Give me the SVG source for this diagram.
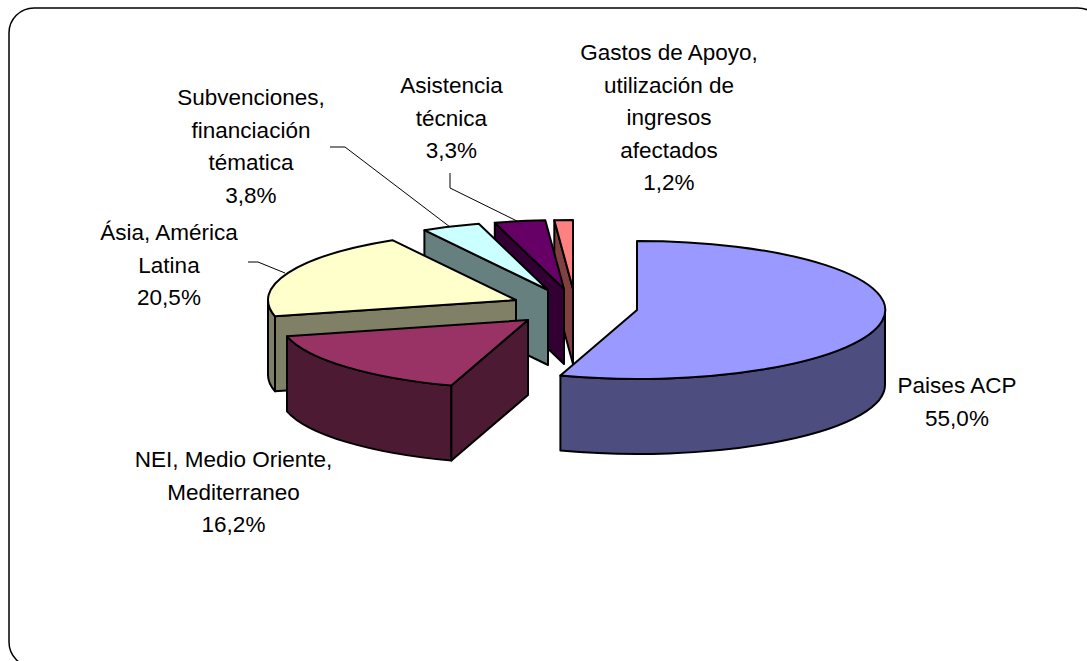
<svg xmlns="http://www.w3.org/2000/svg" width="1087" height="661" viewBox="0 0 1087 661">
<style>
.lbl{font-family:"Liberation Sans",Arial,sans-serif;font-size:22.5px;fill:#000;text-anchor:middle}
.f{stroke:#000;stroke-width:2;stroke-linejoin:round}
.ld{fill:none;stroke:#000;stroke-width:1}
</style>
<rect x="9" y="8" width="1094" height="659" rx="25" ry="25" fill="#fff" stroke="#000" stroke-width="1.5"/>
<g id="gastos">
<path class="f" fill="#804040" d="M573,289 L554.3,220.2 L554.3,295.2 L573,364 Z"/>
<path class="f" fill="#FF8080" d="M573,289 L554.3,220.2 A248,69 0 0 1 573,220 Z"/>
<text class="lbl" x="669" y="60">Gastos de Apoyo,</text>
<text class="lbl" x="669" y="92.5">utilización de</text>
<text class="lbl" x="669" y="125">ingresos</text>
<text class="lbl" x="669" y="157.5">afectados</text>
<text class="lbl" x="669" y="190">1,2%</text>
</g>
<g id="asistencia">
<path class="f" fill="#330033" d="M564,289 L494.8,222.7 L494.8,297.7 L564,364 Z"/>
<path class="f" fill="#660066" d="M564,289 L494.8,222.7 A248,69 0 0 1 545.3,220.2 Z"/>
<text class="lbl" x="451.5" y="93">Asistencia</text>
<text class="lbl" x="451.5" y="125.5">técnica</text>
<text class="lbl" x="451.5" y="158">3,3%</text>
</g>
<g id="subvenciones">
<path class="f" fill="#668080" d="M548,290 L424.4,230.2 L424.4,305.2 L548,365 Z"/>
<path class="f" fill="#CCFFFF" d="M548,290 L424.4,230.2 A248,69 0 0 1 478.8,223.7 Z"/>
<text class="lbl" x="251" y="105">Subvenciones,</text>
<text class="lbl" x="251" y="137.5">financiación</text>
<text class="lbl" x="251" y="170">tématica</text>
<text class="lbl" x="251" y="202.5">3,8%</text>
</g>
<g id="asia">
<path class="f" fill="#808066" d="M275,316.3 A248,69 0 0 1 268,300 L268,375 A248,69 0 0 0 275,391.3 Z"/>
<path class="f" fill="#808066" d="M516,300 L275,316.3 L275,391.3 L516,375 Z"/>
<path class="f" fill="#FFFFCC" d="M516,300 L275,316.3 A248,69 0 0 1 392.4,240.2 Z"/>
<text class="lbl" x="169" y="240">Ásia, América</text>
<text class="lbl" x="169" y="272.5">Latina</text>
<text class="lbl" x="169" y="305">20,5%</text>
</g>
<g id="nei">
<path class="f" fill="#4D1A33" d="M451.4,385.6 A248,69 0 0 1 287,336.3 L287,411.3 A248,69 0 0 0 451.4,460.6 Z"/>
<path class="f" fill="#4D1A33" d="M528,320 L451.4,385.6 L451.4,460.6 L528,395 Z"/>
<path class="f" fill="#993366" d="M528,320 L451.4,385.6 A248,69 0 0 1 287,336.3 Z"/>
<text class="lbl" x="233.5" y="467">NEI, Medio Oriente,</text>
<text class="lbl" x="233.5" y="499.5">Mediterraneo</text>
<text class="lbl" x="233.5" y="532">16,2%</text>
</g>
<g id="paises-acp">
<path class="f" fill="#4D4D80" d="M885,310 A248,69 0 0 1 560.4,375.6 L560.4,450.6 A248,69 0 0 0 885,385 Z"/>
<path class="f" fill="#9999FF" d="M637,310 L637,241 A248,69 0 1 1 560.4,375.6 Z"/>
<text class="lbl" x="957" y="393">Paises ACP</text>
<text class="lbl" x="957" y="425.5">55,0%</text>
</g>
<g id="connectors">
<polyline class="ld" points="330,147 345,147 450,227"/>
<polyline class="ld" points="450,173 450,188 519,222"/>
<polyline class="ld" points="248,262 258,262 285,273"/>
</g>
</svg>
